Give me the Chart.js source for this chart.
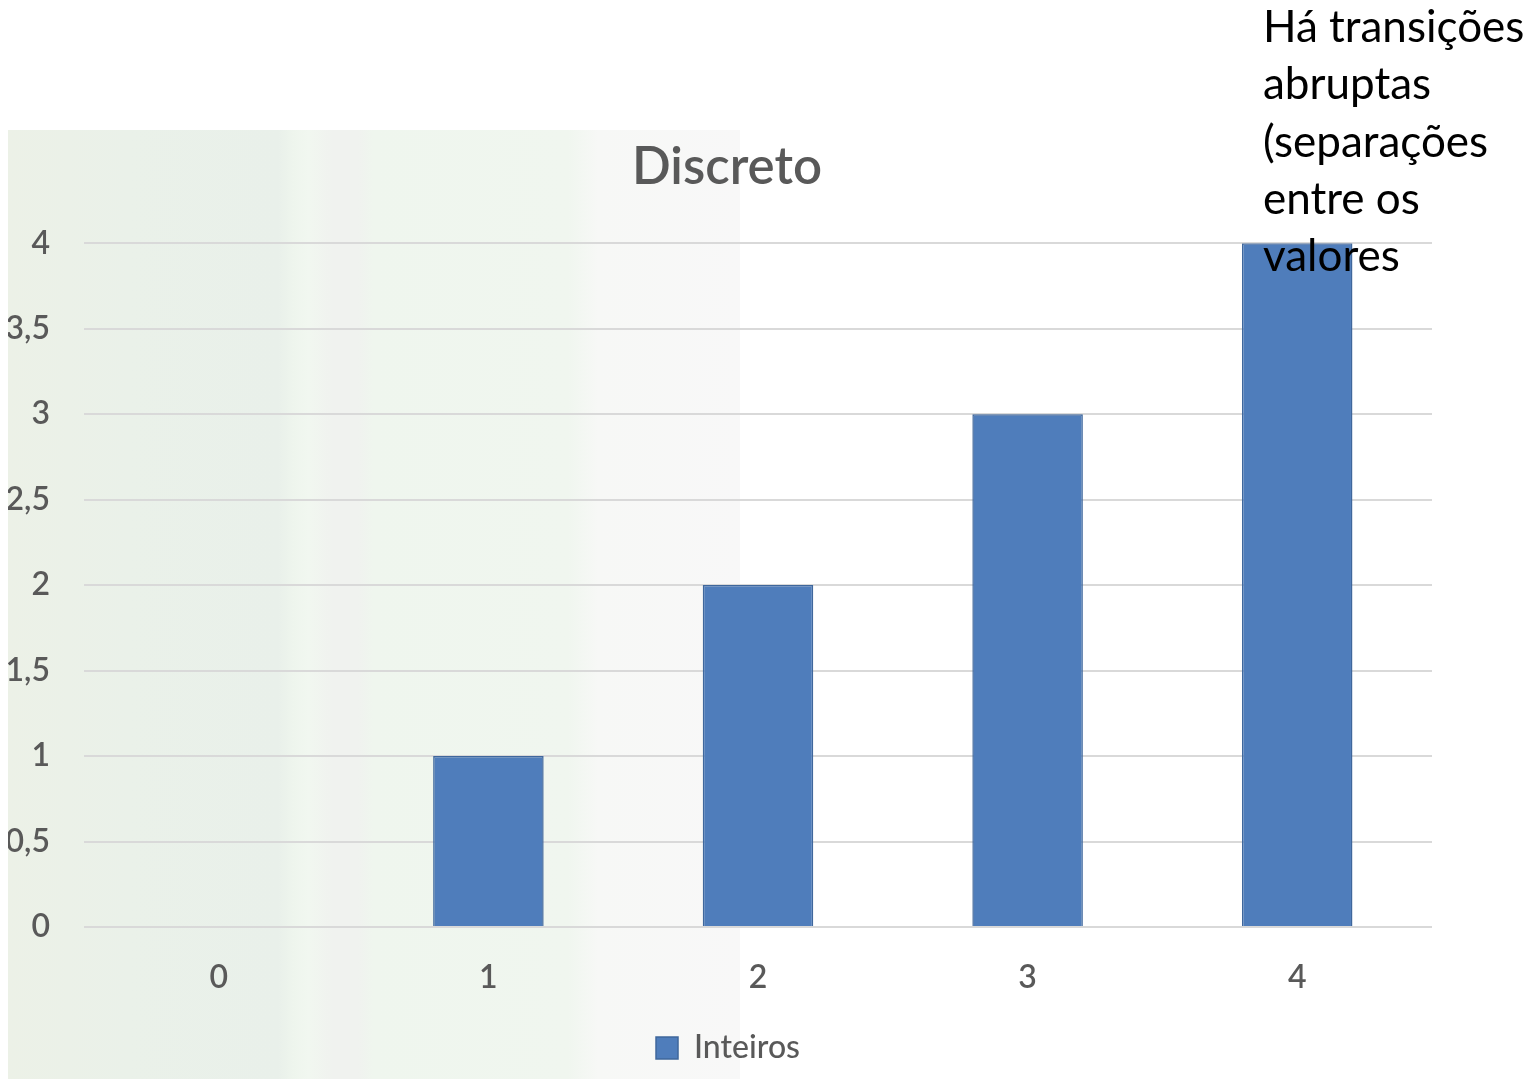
<!DOCTYPE html>
<html>
<head>
<meta charset="utf-8">
<script src="https://cdn.jsdelivr.net/npm/chart.js@4"></script>
<style>
  html, body { margin: 0; padding: 0; background: #fff; }
  body { width: 1537px; height: 1079px; position: relative; overflow: hidden; }
  #bg {
    position: absolute; left: 8px; top: 130px; width: 732px; height: 949px;
    background: linear-gradient(to right,
      #ecf1e7 0px, #eaf1e9 120px, #e9f0ea 270px, #eef5ed 285px, #f1f7f0 300px,
      #f0f2ef 325px, #f0f2ef 350px, #eff6ee 365px, #f0f6ef 560px,
      #f7f8f6 590px, #f8f8f8 732px);
  }
  #wrap { position: absolute; left: 8px; top: 130px; width: 1529px; height: 949px; overflow: hidden; }
  #wrap canvas { position: absolute; left: -8px; top: 0; }
  #note {
    position: absolute; left: 1263px; top: -3px; width: 280px;
    font-family: Lato, "Open Sans", sans-serif; font-size: 44px; line-height: 57.3px;
    color: #000; z-index: 5; white-space: nowrap;
  }
</style>
</head>
<body>
<div id="bg"></div>
<div id="wrap"><canvas id="chart" width="1455" height="949"></canvas></div>
<div id="note">Há transições<br>abruptas<br>(separações<br>entre os<br>valores</div>
<script>
(function () {
  "use strict";

  const categories = ["0", "1", "2", "3", "4"];
  const inteiros = [0, 1, 2, 3, 4];
  const yTicks = [0, 0.5, 1, 1.5, 2, 2.5, 3, 3.5, 4];

  const gray = "#595959";
  const font = "Lato, 'Open Sans', sans-serif";

  // the original title sits a bit left of the plot centre; nudge the title box
  const shiftTitle = {
    id: "shiftTitle",
    afterLayout(chart) {
      if (chart.titleBlock) chart.titleBlock.left += 22;
      if (chart.legend) { chart.legend.left += 12; chart.legend.right += 12; }
    }
  };

  const ctx = document.getElementById("chart");
  new Chart(ctx, {
    type: "bar",
    data: {
      labels: categories,
      datasets: [{
        label: "Inteiros",
        data: inteiros,
        backgroundColor: "#4f7dbb",
        borderColor: "#3f679c",
        borderWidth: 1.5,
        barPercentage: 0.41,
        categoryPercentage: 1
      }]
    },
    options: {
      responsive: false,
      animation: false,
      layout: { padding: { top: 0, right: 23, bottom: 5, left: 0 } },
      plugins: {
        title: {
          display: true,
          text: "Discreto",
          color: gray,
          font: { family: font, size: 51, weight: "600" },
          padding: { top: 7, bottom: 45 }
        },
        legend: {
          position: "bottom",
          labels: {
            color: gray,
            font: { family: font, size: 32, weight: "500" },
            boxWidth: 22,
            boxHeight: 22,
            padding: 9
          }
        },
        tooltip: { enabled: false }
      },
      scales: {
        x: {
          grid: { display: false, drawTicks: false },
          border: { display: false },
          ticks: { color: gray, font: { family: font, size: 32, weight: "600" }, padding: 31 },
          afterFit: (s) => { s.height = 96; }
        },
        y: {
          min: 0,
          max: 4,
          afterBuildTicks: (s) => { s.ticks = yTicks.map(v => ({ value: v })); },
          grid: { color: "#d9d9d9", lineWidth: 2, drawTicks: false },
          border: { display: false },
          ticks: {
            color: gray,
            font: { family: font, size: 32, weight: "600" },
            padding: 34,
            callback: (v) => String(v).replace(".", ",")
          },
          afterFit: (s) => { s.width = 84; }
        }
      }
    },
    plugins: [shiftTitle]
  });
})();
</script>
</body>
</html>
